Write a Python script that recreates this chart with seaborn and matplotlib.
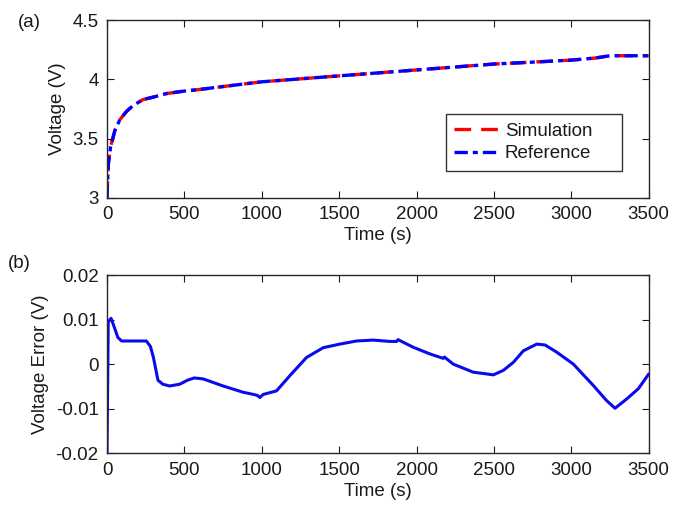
import numpy as np
import pandas as pd
import matplotlib
matplotlib.use("Agg")
import matplotlib.pyplot as plt
import seaborn as sns

# ---- data ----
time_v = [0, 3, 9, 23, 51, 83, 126, 169, 233, 297, 382, 489, 596, 750, 1000,
          1250, 1500, 1800, 2000, 2250, 2500, 2750, 3000, 3150, 3250, 3500]
volt_ref = [3.0, 3.12, 3.29, 3.43, 3.57, 3.66, 3.73, 3.78, 3.83, 3.85, 3.88, 3.90,
            3.915, 3.94, 3.98, 4.005, 4.03, 4.06, 4.08, 4.105, 4.13, 4.146, 4.163,
            4.18, 4.20, 4.20]
volt_sim = [3.0, 3.12, 3.29, 3.43, 3.57, 3.66, 3.73, 3.78, 3.83, 3.85, 3.88, 3.90,
            3.915, 3.94, 3.98, 4.005, 4.03, 4.06, 4.08, 4.105, 4.13, 4.146, 4.163,
            4.18, 4.20, 4.20]

time_e = [0, 8, 26, 45, 70, 94, 180, 254, 280, 300, 329, 360, 404, 470, 520, 564,
          620, 750, 879, 960, 976, 987, 1009, 1095, 1181, 1289,
          1397, 1504, 1612, 1720, 1828, 1871, 1880, 1978, 2086, 2172, 2180, 2237,
          2366, 2496, 2560, 2625, 2690, 2776, 2830, 2905, 3013, 3142, 3228, 3282,
          3358, 3433, 3500]
volt_err = [-0.02, 0.0095, 0.0103, 0.0085, 0.0060, 0.0052, 0.0052, 0.0052, 0.0040,
            0.0015, -0.0036, -0.0045, -0.0049, -0.0045, -0.0036, -0.0031,
            -0.0033, -0.0049, -0.0063, -0.0069, -0.0071, -0.0075,
            -0.0068, -0.0060, -0.0026, 0.0015, 0.0037, 0.0045, 0.0052, 0.0054,
            0.0051, 0.0051, 0.0055, 0.0038, 0.0023, 0.0013, 0.0016, 0.0000,
            -0.0018, -0.0024, -0.0014, 0.0004, 0.0030, 0.0045, 0.0043, 0.0027,
            0.0000, -0.0048, -0.0082, -0.0099, -0.0078, -0.0055, -0.0022]

x_ticks = [0, 500, 1000, 1500, 2000, 2500, 3000, 3500]
v_ticks = [3, 3.5, 4, 4.5]
v_ticklabels = ["3", "3.5", "4", "4.5"]
e_ticks = [-0.02, -0.01, 0, 0.01, 0.02]
e_ticklabels = ["-0.02", "-0.01", "0", "0.01", "0.02"]

# ---- style ----
sns.set_style("ticks")
plt.rcParams["font.family"] = ["Liberation Sans", "DejaVu Sans"]
plt.rcParams["xtick.direction"] = "in"
plt.rcParams["ytick.direction"] = "in"

fig = plt.figure(figsize=(6.73, 5.18), dpi=100)
ax1 = fig.add_axes([0.159, 0.618, 0.805, 0.343])
ax2 = fig.add_axes([0.159, 0.125, 0.805, 0.344])

frame_col = "#262626"
text_col = "#1a1a1a"

df_sim = pd.DataFrame({"t": time_v, "v": volt_sim})
df_ref = pd.DataFrame({"t": time_v, "v": volt_ref})
df_e = pd.DataFrame({"t": time_e, "e": volt_err})

sns.lineplot(data=df_sim, x="t", y="v", ax=ax1, color="#ff0000", lw=2.4,
             label="Simulation", estimator=None, sort=False)
sns.lineplot(data=df_ref, x="t", y="v", ax=ax1, color="#0000ff", lw=2.4,
             label="Reference", estimator=None, sort=False)
ax1.lines[0].set_dashes([5, 3])
ax1.lines[1].set_dashes([4, 1.5, 1.5, 1.5])

sns.lineplot(data=df_e, x="t", y="e", ax=ax2, color="#0a0aee", lw=2.2,
             estimator=None, sort=False)

for ax, yt, ytl, ylim, ylab in [(ax1, v_ticks, v_ticklabels, (3, 4.5), "Voltage (V)"),
                                (ax2, e_ticks, e_ticklabels, (-0.02, 0.02), "Voltage Error (V)")]:
    ax.set_xlim(0, 3500)
    ax.set_ylim(*ylim)
    ax.set_xticks(x_ticks)
    ax.set_xticklabels([str(v) for v in x_ticks])
    ax.set_yticks(yt)
    ax.set_yticklabels(ytl)
    ax.set_xlabel("Time (s)", fontsize=13.5, color=text_col, labelpad=3)
    ax.set_ylabel(ylab, fontsize=13.5, color=text_col, labelpad=5)
    ax.tick_params(axis="both", labelsize=13.5, colors=text_col, length=5,
                   width=0.8, top=True, right=True)
    ax.tick_params(axis="x", pad=6)
    ax.tick_params(axis="y", pad=6)
    for sp in ax.spines.values():
        sp.set_visible(True)
        sp.set_color(frame_col)
        sp.set_linewidth(1.0)
    ax.grid(False)

leg = ax1.legend(loc="lower left", bbox_to_anchor=(0.625, 0.152, 0.325, 0.35),
                 mode="expand", frameon=True, fancybox=False, fontsize=13.5,
                 handlelength=2.4, handletextpad=0.3, borderpad=0.45,
                 labelspacing=0.3, borderaxespad=0)
leg.get_frame().set_edgecolor("black")
leg.get_frame().set_linewidth(1.0)
for t in leg.get_texts():
    t.set_color(text_col)

fig.text(0.027, 0.948, "(a)", fontsize=13.5, color=text_col)
fig.text(0.012, 0.483, "(b)", fontsize=13.5, color=text_col)

fig.savefig("out.png", dpi=100, facecolor="white")
